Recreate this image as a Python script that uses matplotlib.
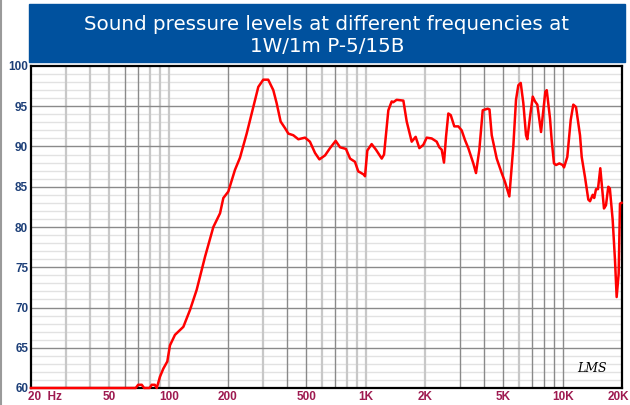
import matplotlib.pyplot as plt
from matplotlib.patches import Rectangle
from matplotlib.lines import Line2D
from matplotlib.transforms import ScaledTranslation

freq = [20, 68, 70, 73, 75, 80, 82, 85, 87, 90.3, 93.9, 98.4, 101.5, 107.6, 118.7,
        128.3, 138.7, 152.9, 168.5, 182.2, 189.4, 200.7, 217, 230, 248.8, 268.8,
        285, 302, 320, 339.6, 353, 370, 389, 405, 429, 455, 492, 521, 553, 582,
        622, 659, 704, 741, 794, 833, 882, 917, 935, 980, 992, 1019, 1072, 1128,
        1206, 1239, 1303, 1355, 1380, 1436, 1553, 1615, 1712, 1793, 1872, 1961,
        2040, 2163, 2293, 2364, 2431, 2497, 2557, 2627, 2702, 2817, 2952, 3071,
        3192, 3318, 3518, 3630, 3774, 3927, 4163, 4250, 4363, 4625, 4902, 5095,
        5359, 5614, 5794, 5953, 6122, 6311, 6513, 6613, 6826, 7045, 7237, 7435,
        7762, 7974, 8163, 8298, 8621, 8790, 9033, 9250, 9615, 10000, 10154,
        10552, 10983, 11320, 11682, 12242, 12488, 12976, 13492, 13762, 14203,
        14450, 14762, 15100, 15520, 15770, 16200, 16584, 17038, 17350, 17933,
        18425, 18790, 19236, 19535, 19900]
spl = [60.0, 60.0, 60.4, 60.4, 60.0, 60.0, 60.4, 60.4, 60.0, 61.4, 62.4, 63.3, 65.3,
       66.6, 67.6, 69.7, 72.2, 76.3, 80.0, 81.7, 83.6, 84.4, 87.1, 88.6, 91.6,
       94.9, 97.4, 98.3, 98.3, 97.0, 95.4, 93.1, 92.3, 91.6, 91.4, 90.9, 91.1,
       90.6, 89.2, 88.4, 88.9, 89.8, 90.7, 89.9, 89.7, 88.5, 88.1, 86.9, 86.8,
       86.5, 86.3, 89.5, 90.3, 89.6, 88.5, 89.0, 94.5, 95.6, 95.5, 95.8, 95.7,
       93.1, 90.6, 91.2, 89.8, 90.2, 91.1, 91.0, 90.6, 89.9, 89.6, 88.0, 91.2,
       94.1, 93.9, 92.5, 92.5, 92.0, 90.8, 89.8, 87.9, 86.7, 89.6, 94.5, 94.7,
       94.6, 91.4, 88.5, 86.7, 85.6, 83.8, 90.0, 95.8, 97.6, 97.9, 95.4, 91.4,
       90.9, 93.7, 96.2, 95.6, 95.2, 91.8, 94.5, 96.8, 97.0, 93.5, 90.8, 87.9,
       87.7, 87.9, 87.7, 87.4, 88.7, 93.3, 95.2, 94.9, 91.4, 88.7, 86.2, 83.4,
       83.2, 84.0, 83.6, 84.7, 84.7, 87.3, 85.4, 82.3, 82.7, 85.0, 84.8, 80.9,
       75.9, 71.3, 74.2, 82.9, 83.0]

x_ticks = [20, 50, 100, 200, 500, 1000, 2000, 5000, 10000, 20000]
x_labels = ['20  Hz', '50', '100', '200', '500', '1K', '2K', '5K', '10K', '20K']
y_ticks = [60, 65, 70, 75, 80, 85, 90, 95, 100]

title = 'Sound pressure levels at different frequencies at\n1W/1m P-5/15B'

fig = plt.figure(figsize=(6.3, 4.05), dpi=100)
ax = fig.add_axes([31 / 630, 17 / 405, 591 / 630, 322 / 405])

# vertical grid, some lines lighter than others as in the original
light = [30, 40, 50, 80, 90, 100, 300, 600, 800, 900, 1000, 2000, 6000]
for dec in [10, 100, 1000]:
    for m in range(2, 11):
        f = m * dec
        if f <= 20 or f >= 20000:
            continue
        if f in light:
            ax.axvline(f, color='#c8c8c8', lw=1.6, zorder=1)
        else:
            ax.axvline(f, color='#8a8a8a', lw=1.0, zorder=1)

for v in range(61, 100):
    if v % 5 == 0:
        ax.axhline(v, color='#8a8a8a', lw=1.0, zorder=1)
    else:
        ax.axhline(v, color='#e2e2e2', lw=1.0, zorder=0.5)

ax.semilogx(freq, spl, color='#ff0000', lw=1.8, zorder=5, clip_on=False)

ax.set_xlim(20, 20000)
ax.set_ylim(60, 100)
ax.set_xticks(x_ticks)
ax.set_xticklabels(x_labels)
ax.set_xticks([], minor=True)
ax.set_yticks(y_ticks)
ax.tick_params(length=0, pad=2)
for lab in ax.get_xticklabels():
    lab.set_color('#9e1a50')
    lab.set_fontweight('bold')
    lab.set_fontfamily('Liberation Sans')
    lab.set_fontsize(8.5)
xl = ax.get_xticklabels()
xl[0].set_ha('left')
xl[0].set_transform(xl[0].get_transform() + ScaledTranslation(-0.03, 0, fig.dpi_scale_trans))
xl[-1].set_ha('right')
xl[-1].set_transform(xl[-1].get_transform() + ScaledTranslation(0.07, 0, fig.dpi_scale_trans))
for lab in ax.get_yticklabels():
    lab.set_color('#1d3f78')
    lab.set_fontweight('bold')
    lab.set_fontfamily('Liberation Sans')
    lab.set_fontsize(8.5)
for s in ax.spines.values():
    s.set_linewidth(1.6)
    s.set_color('black')

ax.text(0.975, 0.04, 'LMS', transform=ax.transAxes, ha='right', va='bottom',
        fontsize=9, fontstyle='italic', family='DejaVu Serif', zorder=6)

# title banner
fig.patches.append(Rectangle((29 / 630, 1 - 62 / 405), 596 / 630, 58 / 405,
                             transform=fig.transFigure, color='#00519e'))
fig.text(327 / 630, 1 - 35 / 405, title, ha='center', va='center', color='white',
         fontsize=14.3, linespacing=1.2)
fig.lines.append(Line2D([1 / 630, 1 / 630], [0, 1], transform=fig.transFigure,
                        color='#9a9a9a', lw=1.5))

fig.savefig('out.png', dpi=100)
